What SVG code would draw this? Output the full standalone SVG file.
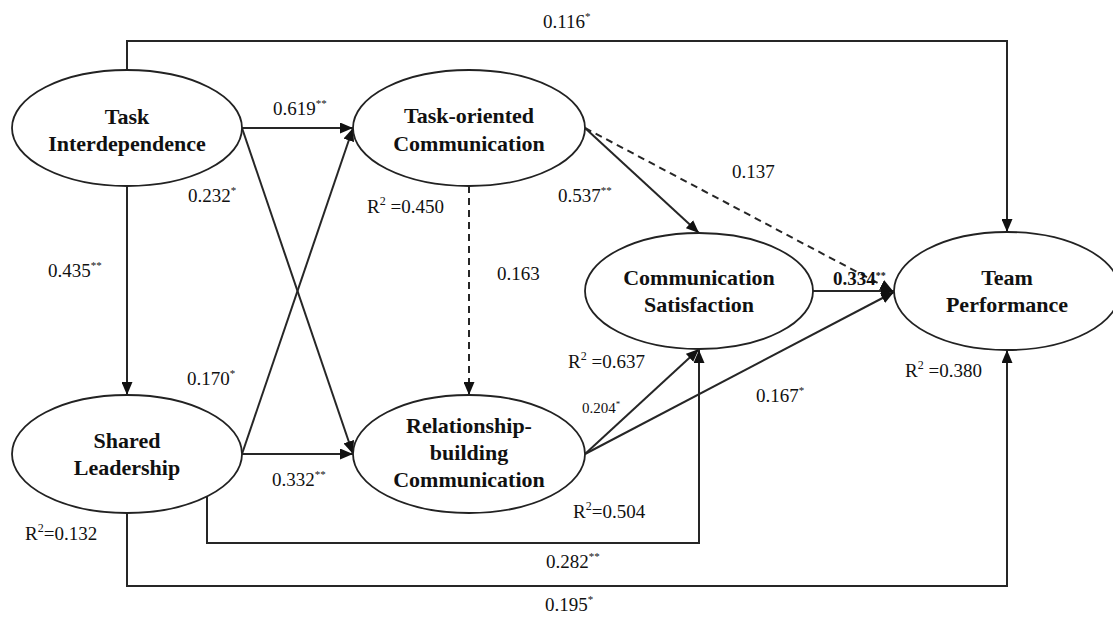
<svg xmlns="http://www.w3.org/2000/svg" width="1113" height="617" viewBox="0 0 1113 617">
<style>
.node ellipse{fill:#fff;stroke:#222;stroke-width:1.8}
.node text{font-family:"Liberation Serif","Times New Roman",serif;font-weight:bold;font-size:22px;fill:#111;text-anchor:middle}
.lbl{font-family:"Liberation Serif","Times New Roman",serif;font-size:19px;fill:#111}
.sm{font-size:15px}
.b{font-weight:bold}
.conn path{fill:none;stroke:#262626;stroke-width:2}
.conn .dash{stroke-dasharray:7 5}
</style>
<defs>
<marker id="arr" markerUnits="userSpaceOnUse" markerWidth="13" markerHeight="11" refX="13" refY="5.5" orient="auto">
<path d="M0,0 L13,5.5 L0,11 z" fill="#111"/>
</marker>
</defs>
<rect width="1113" height="617" fill="#fff"/>
<g id="connectors" class="conn">
<path d="M127,70 V41 H1007 V232" marker-end="url(#arr)"/>
<path d="M127,186 V395" marker-end="url(#arr)"/>
<path d="M242,128 H353" marker-end="url(#arr)"/>
<path d="M242,128 L353,454" marker-end="url(#arr)"/>
<path d="M242,454 L353,128" marker-end="url(#arr)"/>
<path d="M242,454 H353" marker-end="url(#arr)"/>
<path class="dash" d="M469,186 V395" marker-end="url(#arr)"/>
<path d="M585,128 L699,233" marker-end="url(#arr)"/>
<path class="dash" d="M585,128 L893,291" marker-end="url(#arr)"/>
<path d="M585,454 L699,349" marker-end="url(#arr)"/>
<path d="M585,454 L894,292" marker-end="url(#arr)"/>
<path d="M813,291 H894" marker-end="url(#arr)"/>
<path d="M207,496 V543 H699 V350" marker-end="url(#arr)"/>
<path d="M127,513 V586 H1007 V350" marker-end="url(#arr)"/>
</g>
<g id="node-task-interdependence" class="node">
<ellipse cx="127" cy="128" rx="115" ry="58"/>
<text x="127" y="124">Task</text>
<text x="127" y="151">Interdependence</text>
</g>
<g id="node-task-oriented" class="node">
<ellipse cx="469" cy="128" rx="116" ry="58"/>
<text x="469" y="123">Task-oriented</text>
<text x="469" y="151">Communication</text>
</g>
<g id="node-shared-leadership" class="node">
<ellipse cx="127" cy="454" rx="115" ry="59"/>
<text x="127" y="448">Shared</text>
<text x="127" y="475">Leadership</text>
</g>
<g id="node-relationship-building" class="node">
<ellipse cx="469" cy="454" rx="116" ry="59"/>
<text x="469" y="433">Relationship-</text>
<text x="469" y="460">building</text>
<text x="469" y="487">Communication</text>
</g>
<g id="node-communication-satisfaction" class="node">
<ellipse cx="699" cy="291" rx="114" ry="58"/>
<text x="699" y="285">Communication</text>
<text x="699" y="312">Satisfaction</text>
</g>
<g id="node-team-performance" class="node">
<ellipse cx="1007" cy="291" rx="113" ry="59"/>
<text x="1007" y="285">Team</text>
<text x="1007" y="312">Performance</text>
</g>
<g id="labels">
<text class="lbl" x="543" y="28">0.116<tspan dy="-8" font-size="11">*</tspan></text>
<text class="lbl" x="273" y="115">0.619<tspan dy="-8" font-size="11">**</tspan></text>
<text class="lbl" x="188" y="202">0.232<tspan dy="-8" font-size="11">*</tspan></text>
<text class="lbl" x="367" y="213">R<tspan dy="-8" font-size="12">2</tspan><tspan dy="8"> =0.450</tspan></text>
<text class="lbl" x="558" y="202">0.537<tspan dy="-8" font-size="11">**</tspan></text>
<text class="lbl" x="732" y="178">0.137</text>
<text class="lbl" x="48" y="277">0.435<tspan dy="-8" font-size="11">**</tspan></text>
<text class="lbl" x="497" y="280">0.163</text>
<text class="lbl b" x="833" y="285" font-size="15">0.334<tspan dy="-6" font-size="10">**</tspan></text>
<text class="lbl" x="187" y="385">0.170<tspan dy="-8" font-size="11">*</tspan></text>
<text class="lbl" x="568" y="368">R<tspan dy="-8" font-size="12">2</tspan><tspan dy="8"> =0.637</tspan></text>
<text class="lbl" x="905" y="377">R<tspan dy="-8" font-size="12">2</tspan><tspan dy="8"> =0.380</tspan></text>
<text class="lbl" x="756" y="402">0.167<tspan dy="-8" font-size="11">*</tspan></text>
<text class="lbl sm" x="582" y="413">0.204<tspan dy="-6" font-size="9">*</tspan></text>
<text class="lbl" x="272" y="486">0.332<tspan dy="-8" font-size="11">**</tspan></text>
<text class="lbl" x="573" y="518">R<tspan dy="-8" font-size="12">2</tspan><tspan dy="8">=0.504</tspan></text>
<text class="lbl" x="25" y="540">R<tspan dy="-8" font-size="12">2</tspan><tspan dy="8">=0.132</tspan></text>
<text class="lbl" x="546" y="568">0.282<tspan dy="-8" font-size="11">**</tspan></text>
<text class="lbl" x="545" y="611">0.195<tspan dy="-8" font-size="11">*</tspan></text>
</g>
</svg>
